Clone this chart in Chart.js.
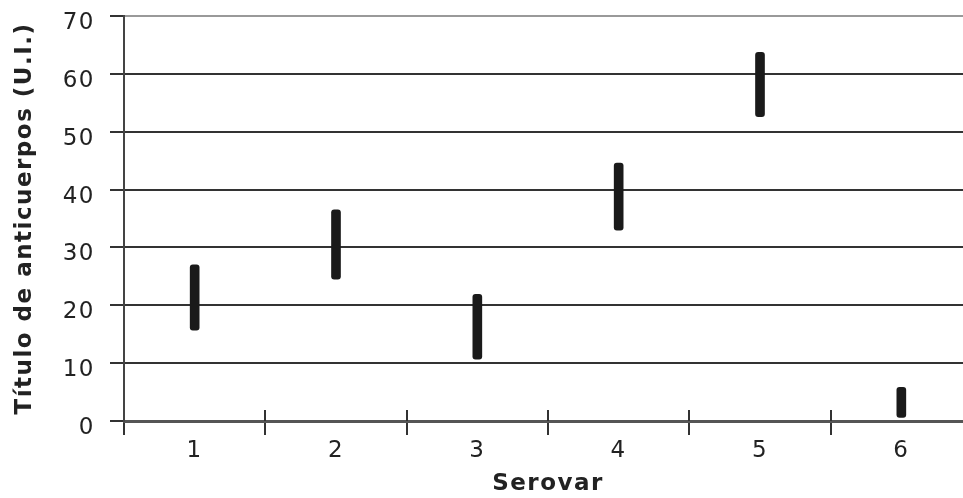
<!DOCTYPE html>
<html>
<head>
<meta charset="utf-8">
<script src="https://cdn.jsdelivr.net/npm/chart.js@4/dist/chart.umd.min.js"></script>
<style>
  html, body { margin: 0; padding: 0; background: #fff; overflow: hidden; width: 963px; height: 498px; }
  canvas { display: block; }
</style>
</head>
<body>
<canvas id="c" width="972" height="498" style="width:972px;height:498px"></canvas>
<script>
const categories = ['1', '2', '3', '4', '5', '6'];
const lows  = [15.7, 24.5, 10.7, 33.0, 52.6, 0.6];
const highs = [27.0, 36.5, 21.9, 44.6, 63.7, 5.8];
const yTicks = [0, 10, 20, 30, 40, 50, 60, 70];
const xTitle = 'Serovar';
const yTitle = 'Título de anticuerpos (U.I.)';

const ranges = lows.map((l, i) => [l, highs[i]]);

const SP = '1.5px';
const spacing = {
  id: 'spacing',
  beforeUpdate(chart) { chart.ctx.letterSpacing = SP; },
  beforeLayout(chart) { chart.ctx.letterSpacing = SP; },
  beforeDraw(chart) { chart.ctx.letterSpacing = SP; }
};

const upTicks = {
  id: 'upTicks',
  afterDraw(chart) {
    const xs = chart.scales.x;
    const ctx = chart.ctx;
    const bottom = chart.chartArea.bottom;
    ctx.save();
    ctx.strokeStyle = '#333';
    ctx.lineWidth = 2;
    for (let i = 1; i < categories.length; i++) {
      const px = Math.round(xs.getPixelForValue(i - 0.5));
      ctx.beginPath();
      ctx.moveTo(px, bottom - 11);
      ctx.lineTo(px, bottom);
      ctx.stroke();
    }
    ctx.restore();
  }
};

new Chart(document.getElementById('c'), {
  type: 'bar',
  data: {
    labels: categories,
    datasets: [{
      data: ranges,
      backgroundColor: '#1a1a1a',
      borderWidth: 0,
      borderRadius: 3,
      borderSkipped: false,
      barThickness: 9
    }]
  },
  plugins: [spacing, upTicks],
  options: {
    responsive: false,
    animation: false,
    devicePixelRatio: 1,
    layout: { padding: { top: 16, left: 0, right: 0, bottom: 0 } },
    plugins: { legend: { display: false }, tooltip: { enabled: false } },
    scales: {
      x: {
        type: 'category',
        offset: true,
        grid: {
          display: true,
          offset: true,
          drawOnChartArea: false,
          drawTicks: true,
          tickLength: 14,
          color: '#333',
          lineWidth: 2
        },
        border: { display: true, color: '#555', width: 3 },
        ticks: {
          padding: 2,
          color: '#222',
          font: { family: 'DejaVu Sans', size: 23 },
          maxRotation: 0,
          autoSkip: false
        },
        title: {
          display: true,
          text: xTitle,
          color: '#222',
          font: { family: 'DejaVu Sans', size: 23, weight: 'bold' },
          padding: { top: 0, bottom: 0 }
        },
        afterFit(scale) {
          scale.height = 77;
          scale.paddingLeft = 0;
          scale.paddingRight = 0;
        }
      },
      y: {
        min: 0,
        max: 70,
        afterBuildTicks(scale) { scale.ticks = yTicks.map(v => ({ value: v })); },
        grid: {
          color: (c) => (c.tick && c.tick.value === 70 ? '#999' : '#333'),
          tickColor: '#333',
          lineWidth: 2,
          tickLength: 14,
          drawTicks: true
        },
        border: { display: true, color: '#444', width: 2 },
        ticks: {
          padding: 15,
          labelOffset: 7,
          color: '#222',
          font: { family: 'DejaVu Sans', size: 23 }
        },
        title: {
          display: true,
          text: yTitle,
          color: '#222',
          font: { family: 'DejaVu Sans', size: 23, weight: 'bold' },
          padding: { top: 11, bottom: 0 }
        },
        afterFit(scale) {
          scale.width = 124;
          scale.paddingTop = 0;
          scale.paddingBottom = 0;
        }
      }
    }
  }
});
</script>
</body>
</html>
